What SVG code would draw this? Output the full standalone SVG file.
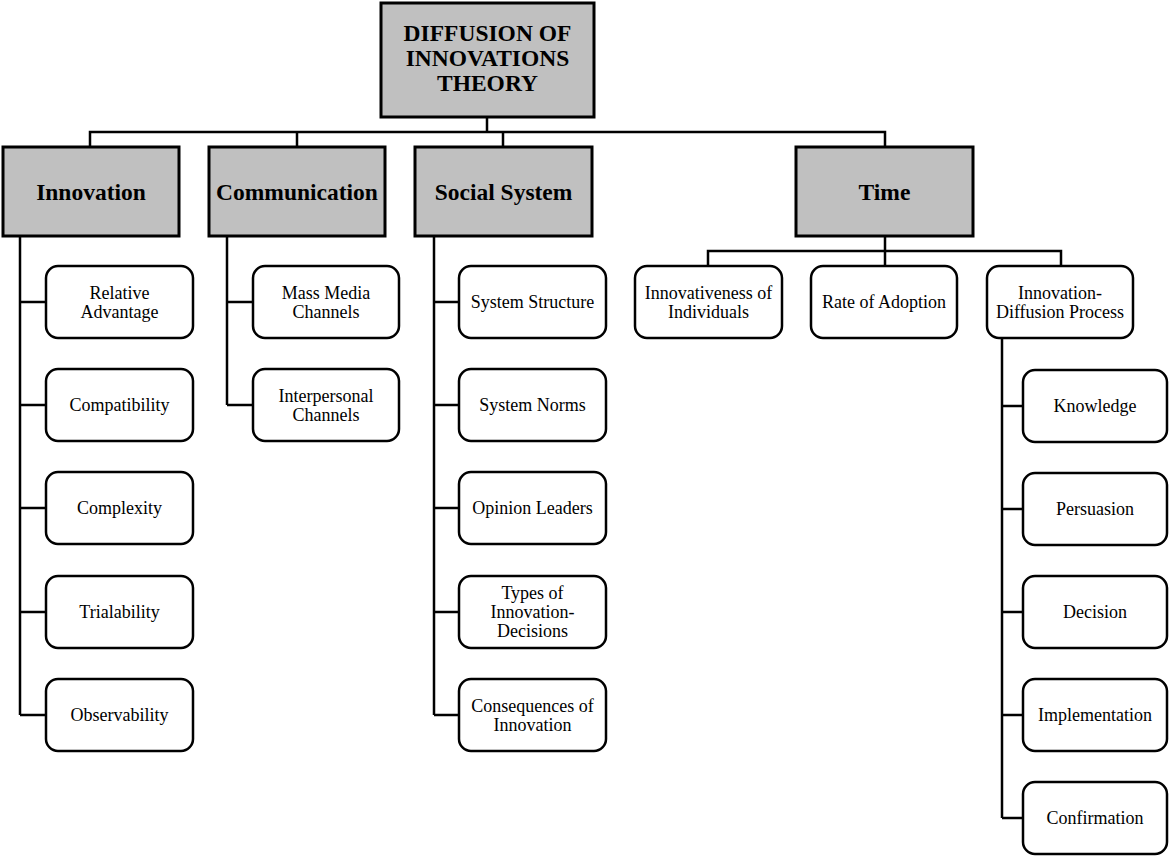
<svg xmlns="http://www.w3.org/2000/svg" width="1169" height="856" viewBox="0 0 1169 856">
<style>
.hd{fill:#c0c0c0;stroke:#000;stroke-width:3}
.ch{fill:#fff;stroke:#000;stroke-width:2.5}
.ln{fill:none;stroke:#000;stroke-width:2.5}
.tl{font-family:"Liberation Serif","Times New Roman",serif;font-weight:bold;font-size:23.5px;text-anchor:middle;fill:#000}
.tx{font-family:"Liberation Serif","Times New Roman",serif;font-size:18px;text-anchor:middle;fill:#000}
</style>
<rect width="1169" height="856" fill="#fff"/>
<g id="connectors">
<path class="ln" d="M487 117V132M90 147V132H885V147M297 132V147M503 132V147"/>
<path class="ln" d="M20 236V715M20 302H46M20 405H46M20 508H46M20 612H46M20 715H46"/>
<path class="ln" d="M227 236V405M227 302H253M227 405H253"/>
<path class="ln" d="M434 236V715M434 302H459M434 405H459M434 508H459M434 612H459M434 715H459"/>
<path class="ln" stroke-width="2" d="M885 236V266M708 266V251H1061V266"/>
<path class="ln" d="M1002 339V818M1002 406H1023M1002 509H1023M1002 612H1023M1002 715H1023M1002 818H1023"/>
</g>
<g id="root"><rect class="hd" x="381" y="3" width="213" height="114"/>
<text class="tl" x="487.5" y="41">DIFFUSION OF</text><text class="tl" x="487.5" y="66">INNOVATIONS</text><text class="tl" x="487.5" y="91">THEORY</text></g>
<g id="innovation"><rect class="hd" x="3" y="147" width="176" height="89"/><text class="tl" x="91" y="199.5">Innovation</text></g>
<g id="communication"><rect class="hd" x="209" y="147" width="176" height="89"/><text class="tl" x="297" y="199.5">Communication</text></g>
<g id="social-system"><rect class="hd" x="415" y="147" width="177" height="89"/><text class="tl" x="503.5" y="199.5">Social System</text></g>
<g id="time"><rect class="hd" x="796" y="147" width="177" height="89"/><text class="tl" x="884.5" y="199.5">Time</text></g>

<g id="relative-advantage"><rect class="ch" x="46" y="266" width="147" height="72" rx="12"/><text class="tx" x="119.5" y="298.5">Relative</text><text class="tx" x="119.5" y="317.5">Advantage</text></g>
<g id="compatibility"><rect class="ch" x="46" y="369" width="147" height="72" rx="12"/><text class="tx" x="119.5" y="411">Compatibility</text></g>
<g id="complexity"><rect class="ch" x="46" y="472" width="147" height="72" rx="12"/><text class="tx" x="119.5" y="514">Complexity</text></g>
<g id="trialability"><rect class="ch" x="46" y="576" width="147" height="72" rx="12"/><text class="tx" x="119.5" y="618">Trialability</text></g>
<g id="observability"><rect class="ch" x="46" y="679" width="147" height="72" rx="12"/><text class="tx" x="119.5" y="721">Observability</text></g>

<g id="mass-media"><rect class="ch" x="253" y="266" width="146" height="72" rx="12"/><text class="tx" x="326" y="298.5">Mass Media</text><text class="tx" x="326" y="317.5">Channels</text></g>
<g id="interpersonal"><rect class="ch" x="253" y="369" width="146" height="72" rx="12"/><text class="tx" x="326" y="401.5">Interpersonal</text><text class="tx" x="326" y="420.5">Channels</text></g>

<g id="system-structure"><rect class="ch" x="459" y="266" width="147" height="72" rx="12"/><text class="tx" x="532.5" y="308">System Structure</text></g>
<g id="system-norms"><rect class="ch" x="459" y="369" width="147" height="72" rx="12"/><text class="tx" x="532.5" y="411">System Norms</text></g>
<g id="opinion-leaders"><rect class="ch" x="459" y="472" width="147" height="72" rx="12"/><text class="tx" x="532.5" y="514">Opinion Leaders</text></g>
<g id="types"><rect class="ch" x="459" y="576" width="147" height="72" rx="12"/><text class="tx" x="532.5" y="598.5">Types of</text><text class="tx" x="532.5" y="617.5">Innovation-</text><text class="tx" x="532.5" y="636.5">Decisions</text></g>
<g id="consequences"><rect class="ch" x="459" y="679" width="147" height="72" rx="12"/><text class="tx" x="532.5" y="711.5">Consequences of</text><text class="tx" x="532.5" y="730.5">Innovation</text></g>

<g id="innovativeness"><rect class="ch" x="635" y="266" width="147" height="72" rx="12"/><text class="tx" x="708.5" y="298.5">Innovativeness of</text><text class="tx" x="708.5" y="317.5">Individuals</text></g>
<g id="rate-of-adoption"><rect class="ch" x="811" y="266" width="146" height="72" rx="12"/><text class="tx" x="884" y="308">Rate of Adoption</text></g>
<g id="innovation-diffusion"><rect class="ch" x="987" y="266" width="146" height="72" rx="12"/><text class="tx" x="1060" y="298.5">Innovation-</text><text class="tx" x="1060" y="317.5">Diffusion Process</text></g>

<g id="knowledge"><rect class="ch" x="1023" y="370" width="144" height="72" rx="12"/><text class="tx" x="1095" y="412">Knowledge</text></g>
<g id="persuasion"><rect class="ch" x="1023" y="473" width="144" height="72" rx="12"/><text class="tx" x="1095" y="515">Persuasion</text></g>
<g id="decision"><rect class="ch" x="1023" y="576" width="144" height="72" rx="12"/><text class="tx" x="1095" y="618">Decision</text></g>
<g id="implementation"><rect class="ch" x="1023" y="679" width="144" height="72" rx="12"/><text class="tx" x="1095" y="721">Implementation</text></g>
<g id="confirmation"><rect class="ch" x="1023" y="782" width="144" height="72" rx="12"/><text class="tx" x="1095" y="824">Confirmation</text></g>
</svg>
